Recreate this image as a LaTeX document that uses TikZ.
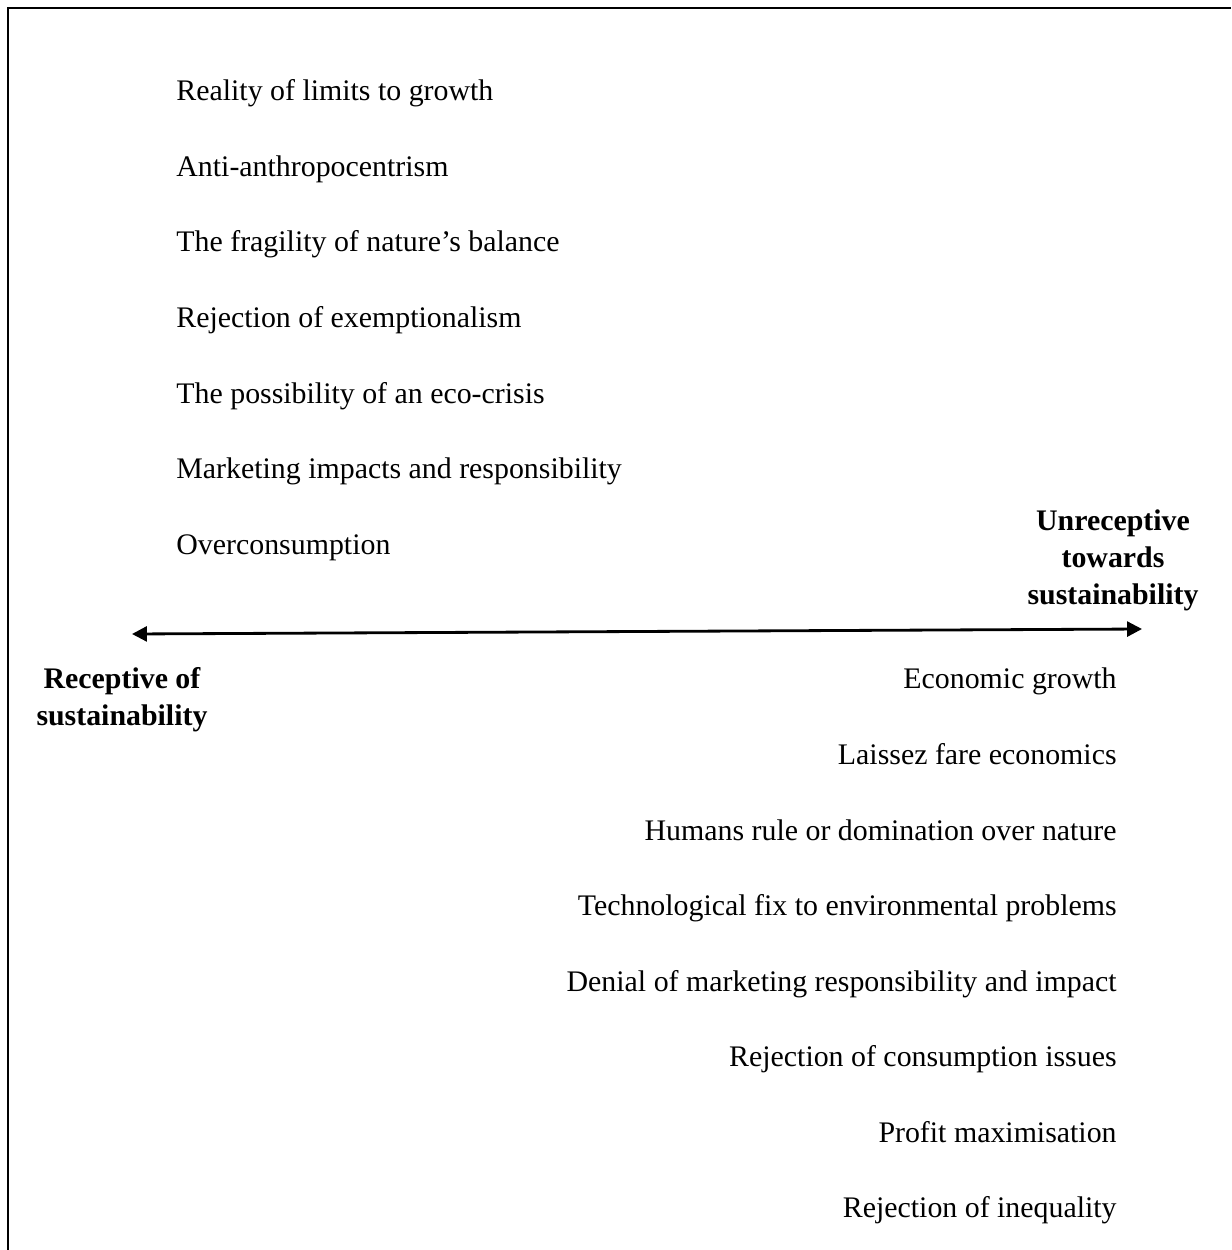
\documentclass[tikz,border=0pt]{standalone}
\usepackage{fontspec}
\setmainfont{Liberation Serif}
\usetikzlibrary{arrows.meta}
\begin{document}
\begin{tikzpicture}[x=0.02cm,y=-0.02cm,>={Triangle[length=8.5pt,width=8.5pt]},line width=1.6pt]
			\tikzset{every node/.style={font=\fontsize{17}{21}\selectfont,inner sep=0pt},
				lbl/.style={font=\fontsize{17}{21}\selectfont\bfseries,align=center}}
			\useasboundingbox (0,0) rectangle (1231,1250);
			\path
			(8,1250)coordinate(FB)
			(8,8)coordinate(FC)
			(1231,8)coordinate(FR)
			(132,634)coordinate(L)
			(1142,629)coordinate(R)
			;
			\draw[line width=1.4pt] (FB)--(FC)--(FR);
			\draw[<->] (L)--(R);
			
			\node[lbl] (unrec) at (1113,560) {Unreceptive\\towards\\sustainability};
			\node[lbl] (rec) at (122,700) {Receptive of\\sustainability};
			
			\foreach \i/\t in {1/Reality of limits to growth,2/Anti-anthropocentrism,3/The fragility of nature’s balance,4/Rejection of exemptionalism,5/The possibility of an eco-crisis,6/Marketing impacts and responsibility,7/Overconsumption}\node[anchor=base west] (up\i) at (175,{25.5+75.5*\i}) {\t};
			\foreach \i/\t in {1/Economic growth,2/Laissez fare economics,3/Humans rule or domination over nature,4/Technological fix to environmental problems,5/Denial of marketing responsibility and impact,6/Rejection of consumption issues,7/Profit maximisation,8/Rejection of inequality}\node[anchor=base east] (dn\i) at (1118,{613.4+75.57*\i}) {\t};
		\end{tikzpicture}
\end{document}
